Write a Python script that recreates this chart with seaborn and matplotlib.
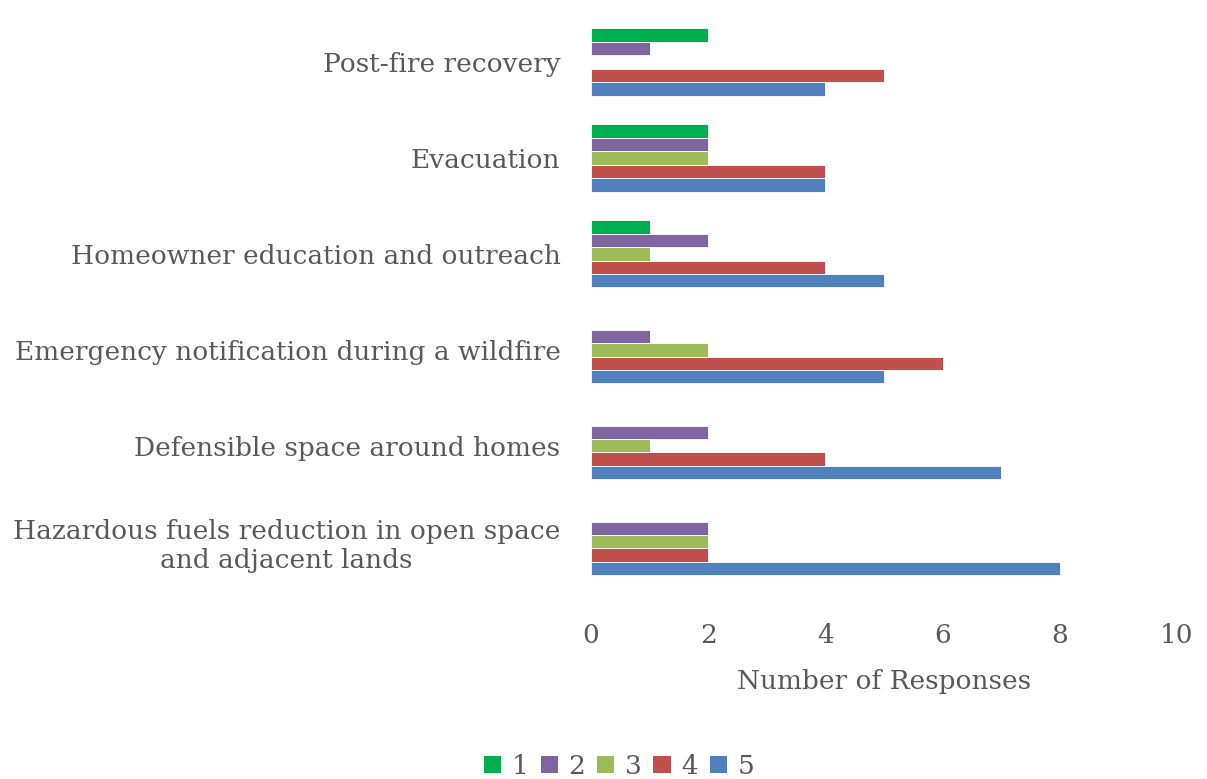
import matplotlib
matplotlib.use("Agg")
import matplotlib.pyplot as plt
import seaborn as sns
import pandas as pd
from matplotlib.patches import Patch

categories = [
    "Post-fire recovery",
    "Evacuation",
    "Homeowner education and outreach",
    "Emergency notification during a wildfire",
    "Defensible space around homes",
    "Hazardous fuels reduction in open space\nand adjacent lands",
]
ratings = ["1", "2", "3", "4", "5"]
rating_1 = [2, 2, 1, 0, 0, 0]
rating_2 = [1, 2, 2, 1, 2, 2]
rating_3 = [0, 2, 1, 2, 1, 2]
rating_4 = [5, 4, 4, 6, 4, 2]
rating_5 = [4, 4, 5, 5, 7, 8]
colors = ["#00B050", "#8064A2", "#9BBB59", "#C0504D", "#4F81BD"]

series = [rating_1, rating_2, rating_3, rating_4, rating_5]
rows = []
for r, vals in zip(ratings, series):
    for c, v in zip(categories, vals):
        rows.append({"category": c, "rating": r, "responses": v})
df = pd.DataFrame(rows)

sns.set_theme(style="white")
plt.rcParams["font.family"] = ["DejaVu Serif"]
text_color = "#595959"

fig = plt.figure(figsize=(12.07, 7.79), dpi=100)
ax = fig.add_axes([0.4896, 0.243, 0.4855, 0.739])

sns.barplot(data=df, y="category", x="responses", hue="rating",
            order=categories, hue_order=ratings, palette=colors,
            saturation=1, orient="h", width=0.7, edgecolor="white",
            linewidth=0.6, legend=False, ax=ax)

ax.set_xlim(0, 10)
ax.set_xticks([0, 2, 4, 6, 8, 10])
ax.set_ylabel("")
ax.set_xlabel("Number of Responses", fontsize=19, color=text_color, labelpad=15)
for s in ax.spines.values():
    s.set_visible(False)
ax.tick_params(axis="x", length=0, pad=24, labelsize=19, labelcolor=text_color)
ax.tick_params(axis="y", length=0, pad=22, labelsize=19, labelcolor=text_color)
for lbl in ax.get_yticklabels():
    lbl.set_horizontalalignment("right")
    lbl.set_multialignment("center")

handles = [Patch(facecolor=c, edgecolor="none") for c in colors]
fig.legend(handles, ratings, loc="lower center", ncol=5, frameon=False,
           fontsize=19, labelcolor=text_color, handlelength=0.65,
           handleheight=0.65, handletextpad=0.4, columnspacing=0.45,
           bbox_to_anchor=(0.513, -0.03))

fig.savefig("out.png", dpi=100)
